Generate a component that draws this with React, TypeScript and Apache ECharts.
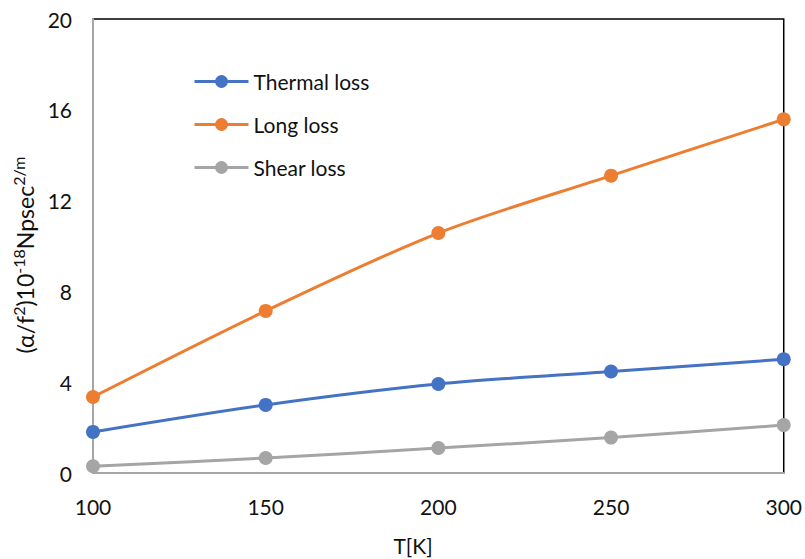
import React, { useEffect, useRef } from "react";
import * as echarts from "echarts";

const temps = [100, 150, 200, 250, 300];
const thermalLoss = [1.81, 3.0, 3.92, 4.47, 5.01];
const longLoss = [3.35, 7.14, 10.57, 13.1, 15.58];
const shearLoss = [0.3, 0.66, 1.1, 1.56, 2.11];
const seriesNames = ["Thermal loss", "Long loss", "Shear loss"];
const seriesColors = ["#4472C4", "#ED7D31", "#A5A5A5"];
const yTicks = [0, 4, 8, 12, 16, 20];

const FONT = "Lato";
const TXT = "#111";

export default function App() {
  const ref = useRef<HTMLDivElement>(null);
  useEffect(() => {
    if (!ref.current) return;
    const chart = echarts.init(ref.current, undefined, { renderer: "svg" });
    const values = [thermalLoss, longLoss, shearLoss];
    chart.setOption({
      animation: false,
      backgroundColor: "#fff",
      textStyle: { fontFamily: FONT },
      grid: {
        left: 93,
        right: 20,
        top: 19,
        bottom: 86,
        show: true,
        borderColor: "#000",
        borderWidth: 1.5,
        z: 0,
      },
      legend: {
        orient: "vertical",
        left: 193,
        top: 71,
        padding: 0,
        itemWidth: 54,
        itemHeight: 16,
        itemGap: 22,
        lineStyle: { width: 3 },
        textStyle: { fontSize: 21, color: TXT, fontFamily: FONT },
        data: seriesNames,
      },
      xAxis: {
        type: "value",
        min: 100,
        max: 300,
        interval: 50,
        z: 3,
        axisLine: { show: true, onZero: false, lineStyle: { color: "#A6A6A6", width: 2 } },
        axisTick: { show: false },
        splitLine: { show: false },
        axisLabel: { fontSize: 21, color: TXT, margin: 23, fontFamily: FONT },
      },
      yAxis: {
        type: "value",
        min: yTicks[0],
        max: yTicks[yTicks.length - 1],
        interval: 4,
        z: 3,
        axisLine: { show: true, onZero: false, lineStyle: { color: "#A6A6A6", width: 2 } },
        axisTick: { show: false },
        splitLine: { show: false },
        axisLabel: { fontSize: 21, color: TXT, margin: 21, fontFamily: FONT },
      },
      graphic: [
        {
          type: "text",
          x: 413,
          y: 545,
          style: {
            text: "T[K]",
            font: `21px ${FONT}`,
            fill: TXT,
            align: "center",
            verticalAlign: "middle",
          },
        },
        {
          type: "text",
          x: 23,
          y: 255,
          rotation: Math.PI / 2,
          style: {
            text: "{m|(α/f}{s|2}{m|)10}{s|-18}{m|Npsec}{s|2/m}",
            align: "center",
            verticalAlign: "middle",
            fill: TXT,
            rich: {
              m: { fontSize: 23, fontFamily: FONT, lineHeight: 26, verticalAlign: "bottom", fill: TXT },
              s: { fontSize: 16, fontFamily: FONT, lineHeight: 18, verticalAlign: "top", fill: TXT },
            },
          },
        },
      ],
      series: seriesNames.map((name, i) => ({
        name,
        type: "line",
        smooth: 0.3,
        symbol: "circle",
        symbolSize: 14,
        z: 5,
        itemStyle: { color: seriesColors[i] },
        lineStyle: { color: seriesColors[i], width: 3 },
        data: temps.map((t, j) => [t, values[i][j]]),
      })),
    });
    return () => chart.dispose();
  }, []);
  return (
    <div
      ref={ref}
      style={{ position: "fixed", left: 0, top: 0, width: 805, height: 559 }}
    />
  );
}
